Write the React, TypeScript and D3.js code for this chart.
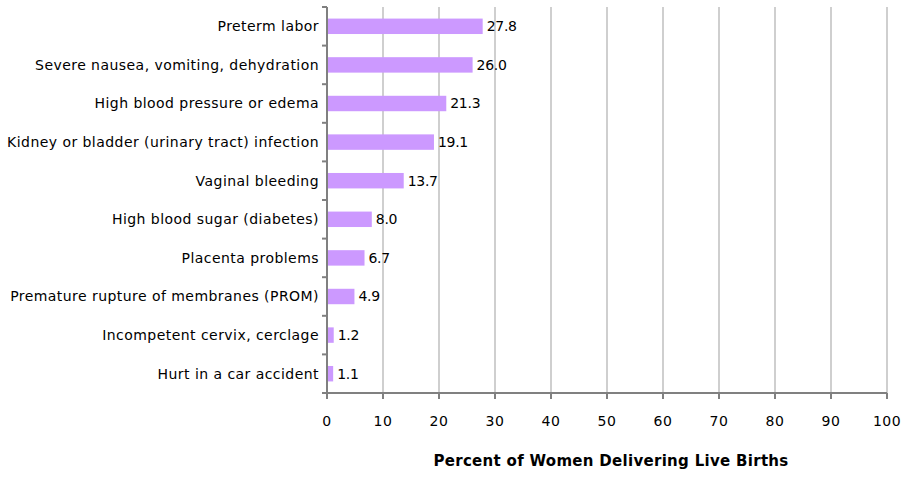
import React from "react";
import * as d3 from "d3";

const categories = [
  "Preterm labor",
  "Severe nausea, vomiting, dehydration",
  "High blood pressure or edema",
  "Kidney or bladder (urinary tract) infection",
  "Vaginal bleeding",
  "High blood sugar (diabetes)",
  "Placenta problems",
  "Premature rupture of membranes (PROM)",
  "Incompetent cervix, cerclage",
  "Hurt in a car accident",
];
const values = [27.8, 26.0, 21.3, 19.1, 13.7, 8.0, 6.7, 4.9, 1.2, 1.1];
const xTicks = [0, 10, 20, 30, 40, 50, 60, 70, 80, 90, 100];
const xTitle = "Percent of Women Delivering Live Births";

export default function App() {
  const W = 912, H = 477;
  const left = 327, right = 887, top = 7, bottom = 393;
  const x = d3.scaleLinear().domain([0, 100]).range([left, right]);
  const y = d3.scaleBand().domain(categories).range([top, bottom]).paddingInner(0.6).paddingOuter(0.3);
  const yb = d3.scaleBand().domain(categories).range([top, bottom]);
  const font = "'DejaVu Sans', sans-serif";
  return (
    <svg width={W} height={H} style={{ position: "absolute", left: 0, top: 0 }} fontFamily={font}>
      <rect width={W} height={H} fill="#fff" />
      {xTicks.slice(1).map((t) => (
        <line key={"g" + t} x1={x(t)} x2={x(t)} y1={top} y2={bottom} stroke="#bfbfbf" strokeWidth={1.5} />
      ))}
      {categories.map((c, i) => (
        <g key={c}>
          <rect x={x(0)} y={y(c)!} width={x(values[i]) - x(0)} height={y.bandwidth()} fill="#cc99ff" />
          <text x={x(values[i]) + 4} y={y(c)! + y.bandwidth() / 2} dy="0.35em" fontSize={14} fill="#000" letterSpacing={-0.3}>
            {values[i].toFixed(1)}
          </text>
          <text x={319} y={y(c)! + y.bandwidth() / 2} dy="0.35em" fontSize={14} textAnchor="end" fill="#000" letterSpacing={0.45}>
            {c}
          </text>
        </g>
      ))}
      {categories.map((c) => (
        <line key={"yt" + c} x1={left - 5} x2={left} y1={yb(c)!} y2={yb(c)!} stroke="#808080" strokeWidth={2} />
      ))}
      <line x1={left - 5} x2={left} y1={bottom} y2={bottom} stroke="#808080" strokeWidth={2} />
      <line x1={left} x2={left} y1={top} y2={bottom} stroke="#808080" strokeWidth={2} />
      <line x1={left} x2={right} y1={bottom} y2={bottom} stroke="#808080" strokeWidth={2} />
      {xTicks.map((t) => (
        <g key={"xt" + t}>
          <line x1={x(t)} x2={x(t)} y1={bottom} y2={bottom + 6} stroke="#808080" strokeWidth={2} />
          <text x={x(t)} y={421} textAnchor="middle" fontSize={14} dy="0.35em" fill="#000" letterSpacing={0.5}>
            {t}
          </text>
        </g>
      ))}
      <text x={611} y={466} textAnchor="middle" fontSize={15} fontWeight="bold" fill="#000" letterSpacing={0.3}>
        {xTitle}
      </text>
    </svg>
  );
}
